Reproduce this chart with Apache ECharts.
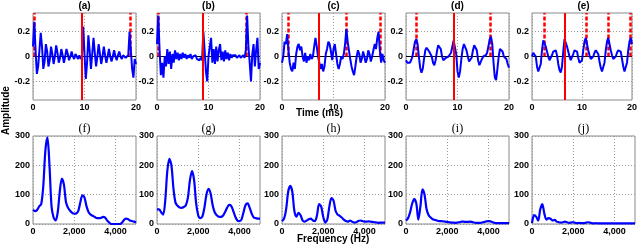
<!DOCTYPE html>
<html><head><meta charset="utf-8">
<script src="https://cdn.jsdelivr.net/npm/echarts@6/dist/echarts.min.js"></script>
<style>html,body{margin:0;padding:0;background:#fff}#c{width:640px;height:244px}</style>
</head><body><div id="c"></div>
<script>
const topTitles = ['(a)','(b)','(c)','(d)','(e)'];
const bottomTitles = ['(f)','(g)','(h)','(i)','(j)'];
const timeStep = 0.25;   // ms between samples
const freqStep = 100;    // Hz between samples
const timeTicks = [0, 10, 20];
const ampTicks = [-0.2, 0, 0.2];
const freqTicks = [0, 2000, 4000];
const specTicks = [0, 100, 200, 300];

const sigA = [0.08,0.28,0.05,-0.14,-0.08,0.05,0.19,0.08,-0.1,-0.04,0.1,0.04,-0.08,-0.03,0.08,0.02,-0.06,0.0,0.09,0.03,-0.05,-0.01,0.06,0.01,-0.05,0.0,0.06,0.02,-0.03,0.0,0.04,0.0,-0.02,0.02,0.0,-0.02,0.01,-0.02,0.0,0.24,0.02,-0.18,-0.05,0.17,0.05,-0.1,0.02,0.15,0.03,-0.08,0.0,0.1,0.02,-0.06,0.0,0.08,0.01,-0.05,0.0,0.06,0.0,-0.04,0.0,0.05,0.0,-0.03,0.01,0.04,0.0,-0.02,0.01,0.02,-0.01,0.0,0.01,0.2,0.05,-0.1,-0.17,-0.02,-0.06];
const sigB = [0.1,0.33,0.05,-0.15,-0.05,-0.17,0.0,-0.08,0.06,-0.06,0.04,-0.1,0.02,-0.05,0.05,-0.02,0.03,-0.03,0.02,-0.02,0.03,-0.01,0.02,-0.02,0.01,-0.01,0.02,-0.02,0.0,-0.01,0.01,-0.02,-0.02,-0.03,-0.01,-0.03,0.2,0.05,-0.12,-0.2,0.0,0.08,0.15,-0.05,0.06,-0.06,0.08,-0.04,0.05,0.1,-0.03,0.04,-0.04,0.05,-0.02,0.03,-0.03,0.02,-0.01,0.01,0.0,0.01,-0.01,0.0,0.01,-0.01,0.0,0.01,-0.01,0.05,0.33,0.08,-0.05,-0.2,0.02,0.1,-0.08,0.05,0.15,-0.1,-0.05];
const sigC = [-0.05,0.0,0.12,0.1,0.18,0.05,-0.05,-0.1,-0.12,-0.05,-0.1,0.02,0.08,0.1,0.05,0.08,0.0,-0.04,0.03,-0.05,0.0,-0.03,0.02,-0.02,0.0,0.08,0.15,0.08,0.0,-0.05,-0.1,-0.06,-0.12,-0.08,0.02,0.06,0.12,0.1,0.04,-0.03,0.06,0.1,0.02,-0.06,-0.1,-0.06,0.0,-0.02,0.02,0.1,0.22,0.12,0.05,-0.02,-0.08,-0.12,-0.15,-0.08,0.0,0.05,0.02,-0.05,-0.02,0.04,0.0,-0.05,-0.02,0.05,0.02,-0.04,0.0,0.05,0.1,0.06,0.15,0.2,0.05,-0.05,0.02,-0.03,-0.05];
const sigD = [-0.03,-0.05,-0.06,-0.05,-0.03,0.0,0.06,0.12,0.14,0.1,0.0,-0.09,-0.13,-0.1,-0.02,0.05,0.07,0.06,0.04,0.04,0.0,-0.05,-0.07,-0.03,0.04,0.09,0.1,0.06,0.0,-0.03,-0.03,-0.01,0.0,0.0,0.01,0.03,0.08,0.13,0.12,0.02,-0.12,-0.17,-0.12,-0.02,0.06,0.1,0.09,0.05,0.0,-0.04,-0.05,-0.01,0.05,0.09,0.1,0.05,-0.03,-0.07,-0.06,-0.02,0.0,0.0,0.01,0.03,0.08,0.14,0.16,0.1,-0.05,-0.17,-0.19,-0.1,0.0,0.06,0.07,0.04,0.0,0.01,-0.02,-0.06,-0.09];
const sigE = [0.0,0.03,0.04,0.0,-0.08,-0.12,-0.13,-0.06,0.05,0.13,0.14,0.08,0.04,0.0,-0.03,-0.02,0.01,0.04,0.05,0.05,0.01,-0.06,-0.11,-0.13,-0.08,0.04,0.14,0.14,0.08,0.04,0.0,-0.03,-0.02,0.02,0.05,0.06,0.04,-0.01,-0.05,-0.06,-0.03,0.05,0.12,0.15,0.1,0.05,0.01,-0.02,-0.03,0.0,0.03,0.05,0.05,0.02,-0.04,-0.09,-0.12,-0.12,-0.05,0.05,0.12,0.15,0.1,0.05,0.01,-0.02,-0.03,0.0,0.03,0.05,0.06,0.04,-0.02,-0.08,-0.12,-0.12,-0.05,0.05,0.12,0.15,0.1];

const specF = [48,44,48,60,68,130,250,295,200,60,22,12,40,110,155,135,75,55,45,38,35,36,45,75,98,90,60,40,32,28,24,20,20,21,24,22,12,5,0,0,0,0,0,3,12,18,17,12,10,8,5];
const specG = [50,50,40,32,80,180,222,200,120,72,62,56,55,58,64,90,150,180,150,70,30,20,25,55,100,120,105,65,40,30,25,24,28,40,55,65,62,45,25,12,10,15,40,65,70,55,35,22,20,18,18];
const specH = [10,18,50,110,130,110,45,25,38,30,12,8,12,16,18,12,10,30,68,60,25,5,15,60,88,80,45,32,28,22,15,10,8,12,8,5,6,10,12,10,8,8,9,8,7,6,5,4,5,5,5];
const specI = [12,20,40,70,85,70,15,60,118,100,50,30,22,16,14,12,10,10,9,8,7,6,5,5,4,5,6,8,8,7,7,8,7,5,4,4,4,5,7,9,10,9,6,4,3,3,3,3,3,3,3];
const specJ = [3,30,25,12,50,68,35,15,20,18,12,14,8,6,5,6,8,6,4,5,6,4,3,4,3,3,4,6,5,3,2,3,2,2,2,2,2,2,2,2,2,2,2,2,2,2,2,2,2,2,2];

const solidT = [9.48, 8.8, 7.05, 9.3, 6.5];
const dashedT = [[0.15, 18.8], [0.2, 17.4], [1.2, 12.5, 19.0], [1.9, 16.4], [2.4, 10.9, 15.3, 19.6]];

const signals = [sigA, sigB, sigC, sigD, sigE];
const spectra = [specF, specG, specH, specI, specJ];

const lefts = [33, 157, 282, 406, 532];
const W = 103;
const FONT = 'Liberation Sans';
const tickLabel = {fontFamily: FONT, fontWeight: 'bold', fontSize: 9, color: '#000'};
const dotted = {show: true, lineStyle: {color: '#9a9a9a', type: [1, 2], width: 1}};

const grid = [], xAxis = [], yAxis = [], series = [], title = [];
for (let i = 0; i < 5; i++) {
  grid.push({left: lefts[i], top: 13, width: W, height: 87, show: true, borderColor: '#8a8a8a', borderWidth: 1, containLabel: false});
  grid.push({left: lefts[i], top: 136, width: W, height: 88, show: true, borderColor: '#8a8a8a', borderWidth: 1, containLabel: false});
}
for (let i = 0; i < 5; i++) {
  const gt = 2 * i, gb = 2 * i + 1;
  xAxis.push({type: 'value', gridIndex: gt, min: 0, max: 20, interval: 10,
    axisLine: {show: false}, axisTick: {show: false},
    axisLabel: Object.assign({margin: 3}, tickLabel), splitLine: dotted});
  xAxis.push({type: 'value', gridIndex: gb, min: 0, max: 5000,
    axisLine: {show: false}, axisTick: {show: false, customValues: freqTicks},
    axisLabel: Object.assign({margin: 3, customValues: freqTicks}, tickLabel), splitLine: dotted});
  yAxis.push({type: 'value', gridIndex: gt, min: -0.35, max: 0.35,
    axisLine: {show: false}, axisTick: {show: false, customValues: ampTicks},
    axisLabel: Object.assign({margin: 3, customValues: ampTicks, formatter: v => (Math.abs(v) < 1e-9 ? '0' : (v < 0 ? '-' : '') + Math.abs(v).toFixed(1))}, tickLabel),
    splitLine: dotted});
  yAxis.push({type: 'value', gridIndex: gb, min: 0, max: 300, interval: 100,
    axisLine: {show: false}, axisTick: {show: false},
    axisLabel: Object.assign({margin: 3}, tickLabel), splitLine: dotted});

  // zero reference line + dashed markers (below signal)
  series.push({type: 'line', xAxisIndex: gt, yAxisIndex: gt, data: [], z: 1,
    markLine: {silent: true, symbol: ['none', 'none'], z: 1, animation: false, label: {show: false},
      data: [
        [{coord: [0, 0], lineStyle: {color: '#000', width: 1, type: 'solid'}}, {coord: [20, 0]}],
        ...dashedT[i].map(t => [{coord: [t, 0], lineStyle: {color: '#ff0000', width: 2.5, type: [4, 2]}}, {coord: [t, 0.35]}])
      ]}});
  series.push({type: 'line', xAxisIndex: gt, yAxisIndex: gt, z: 3, symbol: 'none', showSymbol: false,
    lineStyle: {color: '#0000ff', width: 2}, data: signals[i].map((v, k) => [k * timeStep, v])});
  // solid marker on top
  series.push({type: 'line', xAxisIndex: gt, yAxisIndex: gt, data: [], z: 5,
    markLine: {silent: true, symbol: ['none', 'none'], z: 5, animation: false, label: {show: false},
      lineStyle: {color: '#ff0000', width: 2, type: 'solid'},
      data: [{xAxis: solidT[i]}]}});
  series.push({type: 'line', xAxisIndex: gb, yAxisIndex: gb, z: 3, symbol: 'none', showSymbol: false, smooth: 0.3,
    lineStyle: {color: '#0000ff', width: 2.2}, data: spectra[i].map((v, k) => [k * freqStep, v])});

  title.push({text: topTitles[i], left: lefts[i] + W / 2, top: 1, padding: 0, textAlign: 'center',
    textStyle: {fontFamily: FONT, fontWeight: 'bold', fontSize: 10, color: '#000'}});
  title.push({text: bottomTitles[i], left: lefts[i] + W / 2, top: 123, padding: 0, textAlign: 'center',
    textStyle: {fontFamily: 'Liberation Serif', fontWeight: 'normal', fontSize: 12, color: '#000'}});
}

const chart = echarts.init(document.getElementById('c'), null, {renderer: 'canvas'});
chart.setOption({
  animation: false,
  backgroundColor: '#fff',
  title, grid, xAxis, yAxis, series,
  graphic: [
    {type: 'text', left: 296, top: 108, style: {text: 'Time (ms)', font: 'bold 10px "Liberation Sans"', fill: '#000'}},
    {type: 'text', left: 297, top: 234, style: {text: 'Frequency (Hz)', font: 'bold 10px "Liberation Sans"', fill: '#000'}},
    {type: 'text', x: 1, y: 135, rotation: Math.PI / 2, style: {text: 'Amplitude', font: 'bold 10px "Liberation Sans"', fill: '#000'}}
  ]
});
</script></body></html>
